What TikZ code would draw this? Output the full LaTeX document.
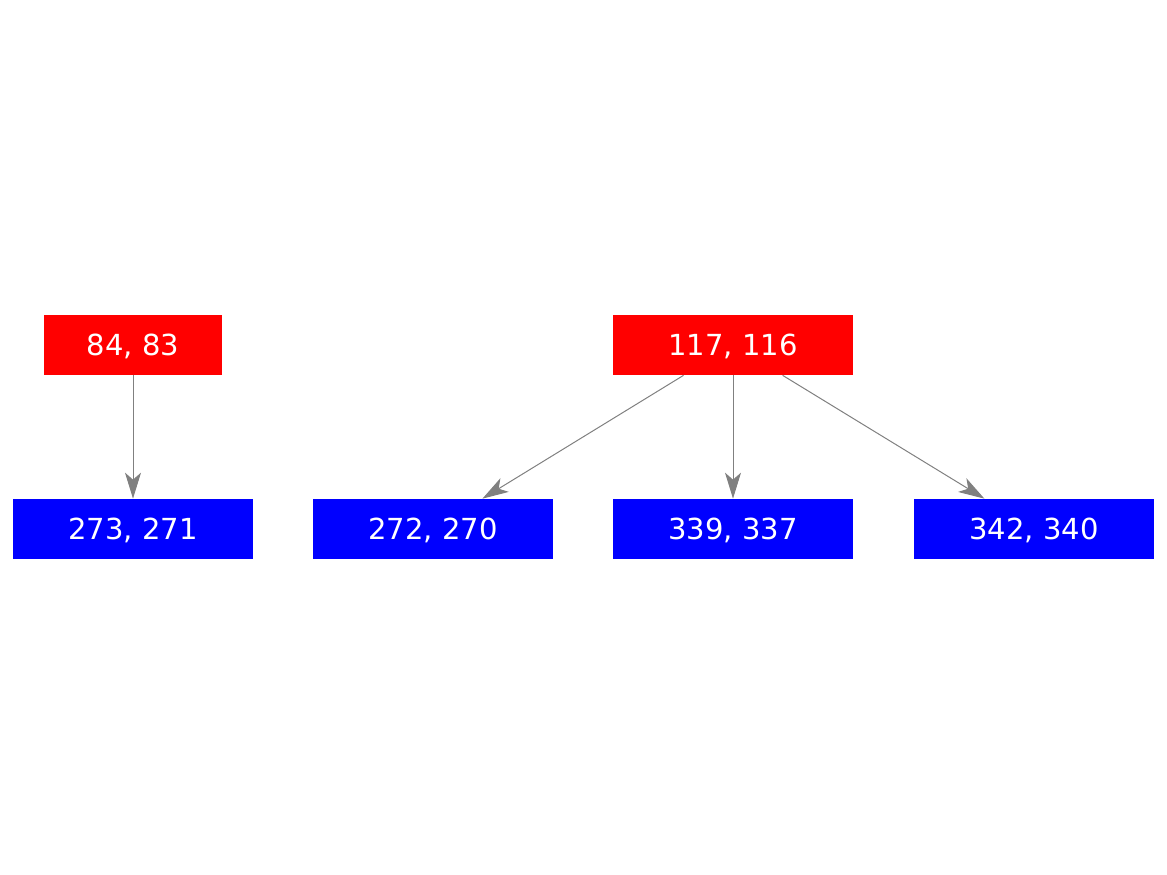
\documentclass[tikz,border=0pt]{standalone}
\usepackage{fontspec}
\setmainfont{DejaVu Sans}
\usetikzlibrary{arrows.meta}
\definecolor{edgegray}{RGB}{128,128,128}
\tikzset{redbox/.style={fill={rgb,255:red,255;green,0;blue,0}, text=white, inner sep=0pt,
  minimum height=1.2cm, text height=12pt, text depth=0pt, font=\fontsize{16.5}{19}\selectfont}}
\tikzset{bluebox/.style={fill={rgb,255:red,0;green,0;blue,255}, text=white, inner sep=0pt,
  minimum width=4.8cm, minimum height=1.2cm, text height=12pt, text depth=0pt,
  font=\fontsize{16.5}{19}\selectfont}}
\tikzset{edge/.style={draw=edgegray, line width=0.57pt,
  -{Stealth[length=0.52cm, width=0.32cm, inset=0.14cm, fill=edgegray]}}}

\begin{document}
\begin{tikzpicture}[x=0.02cm, y=-0.02cm]
      \useasboundingbox (0, 0) rectangle (1167, 875);

      \node [redbox, minimum width=3.58cm] (r84) at (133, 345) {84, 83};
      \node [redbox, minimum width=4.8cm] (r117) at (733, 345) {117, 116};

      \node [bluebox] (b273) at (133, 529) {273, 271};
      \node [bluebox] (b272) at (433, 529) {272, 270};
      \node [bluebox] (b339) at (733, 529) {339, 337};
      \node [bluebox] (b342) at (1034, 529) {342, 340};

      \draw [edge] (r84) -- (b273);
      \draw [edge] (r117) -- (b272);
      \draw [edge] (r117) -- (b339);
      \draw [edge] (r117) -- (b342);

    \end{tikzpicture}
\end{document}
